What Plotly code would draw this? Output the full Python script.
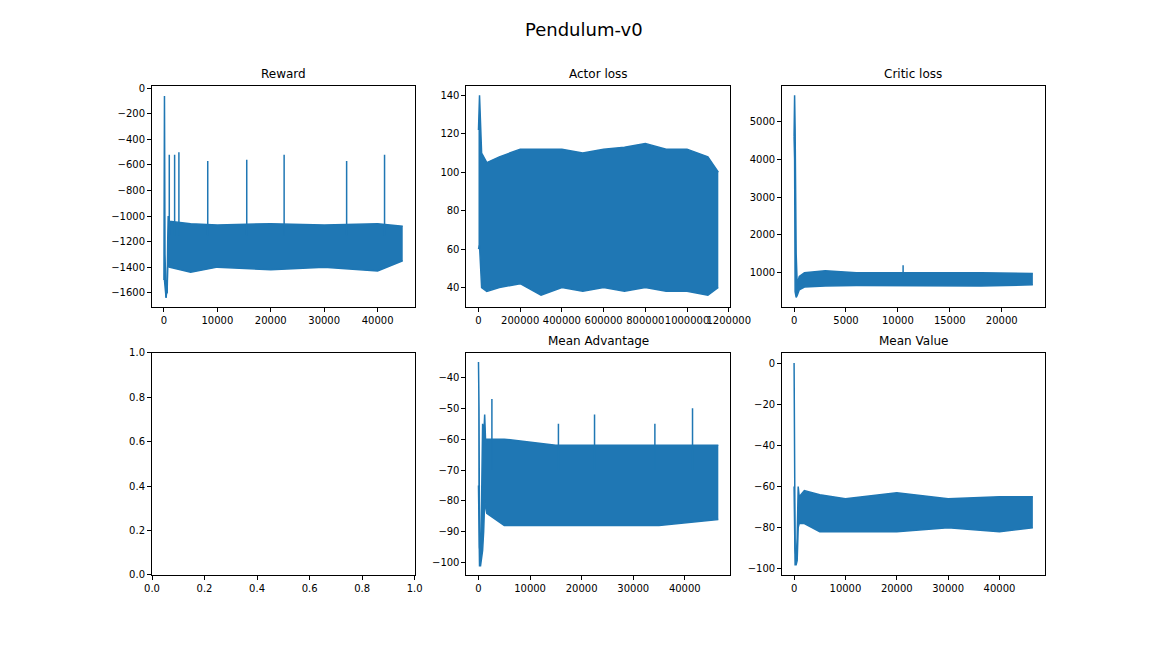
import plotly.graph_objects as go

C = "#1f77b4"
# Reward
rw_x = [0, 100, 200, 300, 400, 500, 600, 700, 800, 1000, 5000, 10000, 20000, 30000, 40000, 44700]
rw_hi = [-1500, -60, -1300, -1500, -1640, -1500, -1600, -1200, -1000, -1040, -1060, -1070, -1060, -1070, -1060, -1080]
rw_lo = [-1500, -1500, -1550, -1640, -1640, -1600, -1600, -1400, -1350, -1400, -1440, -1400, -1420, -1400, -1430, -1350]
rw_spk_x = [1000, 2000, 2800, 8200, 15500, 22500, 34200, 41300]
rw_spk_y = [-520, -520, -500, -570, -560, -520, -570, -520]
# Actor loss
al_x = [0, 5000, 15000, 40000, 100000, 200000, 300000, 400000, 500000, 600000, 700000, 800000, 900000, 1000000, 1100000, 1150000]
al_hi = [122, 140, 110, 105, 108, 112, 112, 112, 110, 112, 113, 115, 112, 112, 108, 100]
al_lo = [60, 62, 40, 38, 40, 42, 36, 40, 38, 40, 38, 40, 38, 38, 36, 40]
# Critic loss
cl_x = [0, 50, 100, 200, 300, 500, 1000, 3000, 6000, 10000, 14000, 18000, 23000]
cl_hi = [4600, 5700, 4800, 1500, 700, 900, 1000, 1050, 1000, 1000, 1000, 1000, 980]
cl_lo = [4600, 4000, 500, 350, 400, 550, 620, 650, 660, 650, 660, 650, 680]
cl_spk_x = [10500]
cl_spk_y = [1200]
# Mean Advantage
ma_x = [0, 100, 200, 400, 600, 800, 1000, 1200, 1400, 1600, 5000, 15000, 25000, 35000, 46500]
ma_hi = [-35, -50, -95, -98, -80, -55, -60, -52, -62, -60, -60, -62, -62, -62, -62]
ma_lo = [-75, -100, -101, -101, -99, -96, -90, -80, -82, -84, -88, -88, -88, -88, -86]
ma_spk_x = [2600, 15500, 22500, 34200, 41500]
ma_spk_y = [-47, -55, -52, -55, -50]
# Mean Value
mv_x = [0, 100, 200, 400, 600, 800, 1000, 2000, 5000, 10000, 20000, 30000, 40000, 46500]
mv_hi = [0, -30, -90, -95, -85, -60, -65, -62, -64, -66, -63, -66, -65, -65]
mv_lo = [-60, -95, -98, -98, -96, -80, -78, -78, -82, -82, -82, -80, -82, -80]

fig = go.Figure()
dom_x = [(0.125, 0.353), (0.398, 0.627), (0.672, 0.900)]
dom_y = [(0.539, 0.880), (0.125, 0.468)]

def band(xs, hi, lo, ax, sx=None, sy=None, base=None):
    kw = dict(xaxis="x" + ax, yaxis="y" + ax, showlegend=False, hoverinfo="skip")
    fig.add_trace(go.Scatter(x=xs, y=lo, mode="lines", line=dict(color=C, width=1.5), **kw))
    fig.add_trace(go.Scatter(x=xs, y=hi, mode="lines", line=dict(color=C, width=1.5),
                             fill="tonexty", fillcolor=C, **kw))
    if sx:
        px, py = [], []
        for x, y in zip(sx, sy):
            px += [x, x, None]
            py += [base, y, None]
        fig.add_trace(go.Scatter(x=px, y=py, mode="lines", line=dict(color=C, width=1.5), **kw))

band(rw_x, rw_hi, rw_lo, "", rw_spk_x, rw_spk_y, -1150)
band(al_x, al_hi, al_lo, "2")
band(cl_x, cl_hi, cl_lo, "3", cl_spk_x, cl_spk_y, 900)
fig.add_trace(go.Scatter(x=[None], y=[None], xaxis="x4", yaxis="y4", showlegend=False))
band(ma_x, ma_hi, ma_lo, "5", ma_spk_x, ma_spk_y, -70)
band(mv_x, mv_hi, mv_lo, "6")

axstyle = dict(showgrid=False, zeroline=False, showline=True, linecolor="black", linewidth=1,
               mirror=True, ticks="outside", ticklen=4, tickcolor="black", tickformat="d",
               tickangle=0, tickfont=dict(size=10, color="black"))
specs = {
    "": (0, 0, [-2235, 46935], 10000, [-1710, 20], 200),
    "2": (1, 0, [-57500, 1207500], 200000, [30, 145], 20),
    "3": (2, 0, [-1150, 24150], 5000, [100, 5950], 1000),
    "4": (0, 1, [0, 1], 0.2, [0, 1], 0.2),
    "5": (1, 1, [-2325, 48825], 10000, [-104, -32], 10),
    "6": (2, 1, [-2325, 48825], 10000, [-103, 5], 20),
}
for ax, (c, r, xr, xd, yr, yd) in specs.items():
    xa = dict(axstyle, domain=dom_x[c], range=xr, dtick=xd, anchor="y" + ax, visible=True)
    ya = dict(axstyle, domain=dom_y[r], range=yr, dtick=yd, anchor="x" + ax, visible=True)
    if ax == "4":
        xa["tickformat"] = ".1f"; ya["tickformat"] = ".1f"
    fig.layout["xaxis" + ax] = xa
    fig.layout["yaxis" + ax] = ya

titles = [("Reward", 0, 0), ("Actor loss", 1, 0), ("Critic loss", 2, 0), ("Mean Advantage", 1, 1), ("Mean Value", 2, 1)]
ann = []
for t, c, r in titles:
    ann.append(dict(text=t, x=(dom_x[c][0] + dom_x[c][1]) / 2, y=dom_y[r][1], xref="paper", yref="paper",
                    xanchor="center", yanchor="bottom", yshift=3, showarrow=False, font=dict(size=12, color="black")))
ann.append(dict(text="Pendulum-v0", x=0.5, y=1 - 21 / 648, xref="paper", yref="paper", xanchor="center",
                yanchor="middle", showarrow=False, font=dict(size=18, color="black")))
fig.update_layout(width=1152, height=648, margin=dict(l=0, r=0, t=0, b=0, autoexpand=False),
                  plot_bgcolor="white", paper_bgcolor="white", annotations=ann,
                  font=dict(family="DejaVu Sans"))
fig.write_html("out.html")
